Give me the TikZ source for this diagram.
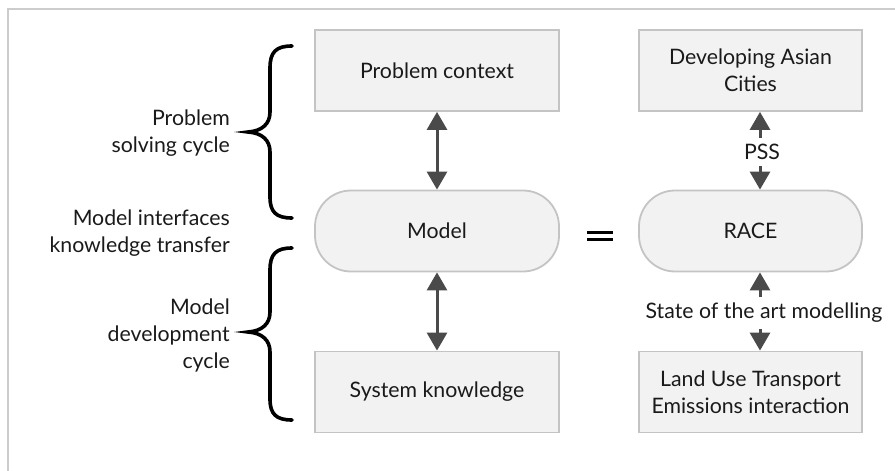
\documentclass[tikz,border=0pt]{standalone}
\usepackage{fontspec}
\setmainfont{Lato}
\usetikzlibrary{arrows.meta,calc}
\definecolor{boxfill}{HTML}{F2F2F2}
\definecolor{boxline}{HTML}{C4C4C4}
\definecolor{arrcol}{HTML}{4A4A4A}
\definecolor{framecol}{HTML}{CCCCCC}
\definecolor{txtcol}{HTML}{1A1A1A}
\tikzset{
  sqbox/.style={draw=boxline, line width=1.8pt, fill=boxfill, minimum width=244pt, minimum height=81pt, inner sep=0pt, align=center, text=txtcol, font=\fontsize{21.3}{27}\selectfont},
  rbox/.style={sqbox, rounded corners=36pt},
  arr/.style={draw=arrcol, line width=3pt, -{Triangle[width=20pt,length=18pt]}},
  darr/.style={draw=arrcol, line width=3pt, {Triangle[width=20pt,length=18pt]}-{Triangle[width=20pt,length=18pt]}},
  sidelbl/.style={anchor=east, align=right, inner sep=0pt, text=txtcol, font=\fontsize{21.3}{27}\selectfont},
  midlbl/.style={inner xsep=1pt, inner ysep=6pt, text=txtcol, font=\fontsize{21.3}{27}\selectfont},
  bracestyle/.style={line width=3.6pt, black, line cap=round}
}
\begin{document}
\begin{tikzpicture}[x=1pt,y=-1pt]
\useasboundingbox (0,0) rectangle (895,471);
% frame
\draw[framecol, line width=1.5pt] (8,471) -- (8,9) -- (895,9);
% boxes
\node[sqbox] (pc) at (437,70.5) {Problem context};
\node[sqbox, minimum width=223pt] (dac) at (750.5,70.5) {Developing Asian\\Cities};
\node[rbox] (model) at (437,231) {Model};
\node[rbox, minimum width=223pt] (race) at (750.5,231) {RACE};
\node[sqbox] (sk) at (437,392) {System knowledge};
\node[sqbox, minimum width=223pt] (lut) at (750.5,392) {Land Use Transport\\Emissions interaction};
% equals
\node[inner sep=0pt] (eq) at (600,235.5) {\tikz[x=1pt,y=1pt]{\fill (0,0) rectangle (26,3); \fill (0,7) rectangle (26,10);}};
% left arrows
\draw[darr] (pc.south) -- (model.north);
\draw[darr] (model.south) -- (sk.north);
% right labels and arrows
\node[midlbl] (pss) at (762,152) {PSS};
\node[midlbl] (soa) at (764,313) {State of the art modelling};
\coordinate (pssx) at (760,0);
\draw[arr] (pssx |- pss.north) -- (pssx |- dac.south);
\draw[arr] (pssx |- pss.south) -- (pssx |- race.north);
\draw[arr] (pssx |- soa.north) -- (pssx |- race.south);
\draw[arr] (pssx |- soa.south) -- (pssx |- lut.north);
% side labels
\node[sidelbl] (l1) at (230,133) {Problem\\solving cycle};
\node[sidelbl] (l2) at (230,233) {Model interfaces\\knowledge transfer};
\node[sidelbl] (l3) at (230,335) {Model\\development\\cycle};
% braces
\draw[bracestyle] (292,46) .. controls (276,46) and (270,52) .. (270,68) -- (270,112) .. controls (270,124) and (262,131) .. (248,132) .. controls (262,133) and (270,140) .. (270,152) -- (270,197) .. controls (270,212) and (276,218) .. (292,218);
\draw[bracestyle] (292,248) .. controls (276,248) and (270,254) .. (270,270) -- (270,312) .. controls (270,324) and (262,331) .. (248,332) .. controls (262,333) and (270,340) .. (270,352) -- (270,399) .. controls (270,414) and (276,420) .. (292,420);
\end{tikzpicture}
\end{document}
